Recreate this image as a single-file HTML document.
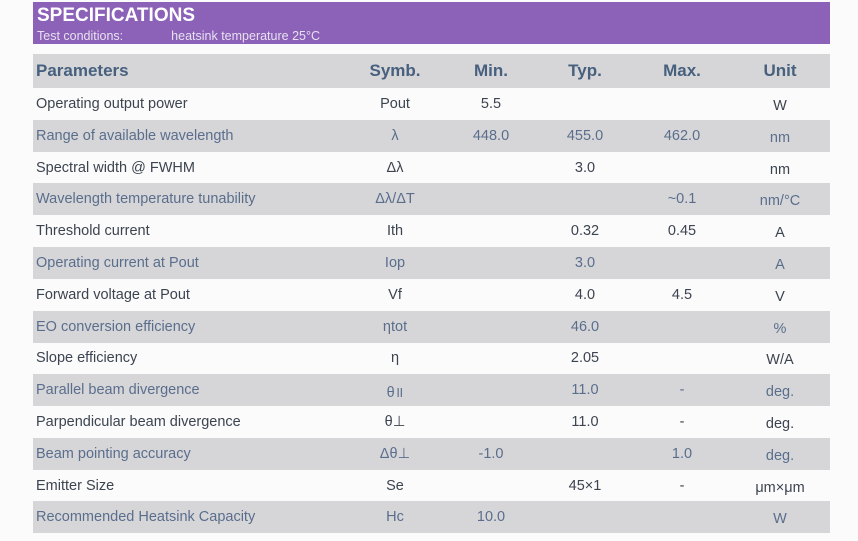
<!DOCTYPE html>
<html><head><style>
body{margin:0;width:858px;height:541px;background:#fbfbfb;font-family:"Liberation Sans","DejaVu Sans",sans-serif;position:relative;overflow:hidden}
.band{position:absolute;left:33px;top:2px;width:797px;height:42px;background:#8c62b9}
.band .t{position:absolute;left:4px;top:3px;color:#fff;font-weight:bold;font-size:19px}
.band .s{position:absolute;left:4px;top:27px;color:#e8e0f0;font-size:12.5px}
.row{position:absolute;left:33px;width:797px;height:32px;font-size:14.5px;color:#3c4450}
.g{background:#d6d6d9;color:#5a6e8c}
.row span{position:absolute;top:8px}
.c{transform:translateX(-50%)}
.h{font-weight:bold;font-size:17px;color:#46607e}
</style></head><body>
<div class="band"><div class="t">SPECIFICATIONS</div><div class="s">Test conditions:<span style="margin-left:48px">heatsink temperature 25°C</span></div></div>
<div class="row g h" style="top:54px;height:34px"><span style="left:3px;top:7px">Parameters</span><span class="c" style="left:362px;top:7px">Symb.</span><span class="c" style="left:458px;top:7px">Min.</span><span class="c" style="left:552px;top:7px">Typ.</span><span class="c" style="left:649px;top:7px">Max.</span><span class="c" style="left:747px;top:7px">Unit</span></div>
<div id="rows"></div>
<script>
var d=[["Operating output power","Pout","5.5","","","W"],["Range of available wavelength","λ","448.0","455.0","462.0","nm"],["Spectral width @ FWHM","Δλ","","3.0","","nm"],["Wavelength temperature tunability","Δλ/ΔT","","","~0.1","nm/°C"],["Threshold current","Ith","","0.32","0.45","A"],["Operating current at Pout","Iop","","3.0","","A"],["Forward voltage at Pout","Vf","","4.0","4.5","V"],["EO conversion efficiency","ηtot","","46.0","","%"],["Slope efficiency","η","","2.05","","W/A"],["Parallel beam divergence","θ॥","","11.0","-","deg."],["Parpendicular beam divergence","θ⊥","","11.0","-","deg."],["Beam pointing accuracy","Δθ⊥","-1.0","","1.0","deg."],["Emitter Size","Se","","45×1","-","μm×μm"],["Recommended Heatsink Capacity","Hc","10.0","","","W"]];
var x=[362,458,552,649,747],h="";
d.forEach(function(r,i){var t=88+i*31.8;h+='<div class="row'+(i%2?' g':'')+'" style="top:'+t+'px"><span style="left:3px">'+r[0]+'</span>';for(var j=1;j<6;j++)h+='<span class="c" style="left:'+x[j-1]+'px;'+(j==5?'top:10px':'')+'">'+r[j]+'</span>';h+='</div>';});
document.getElementById("rows").innerHTML=h;
</script>
</body></html>
